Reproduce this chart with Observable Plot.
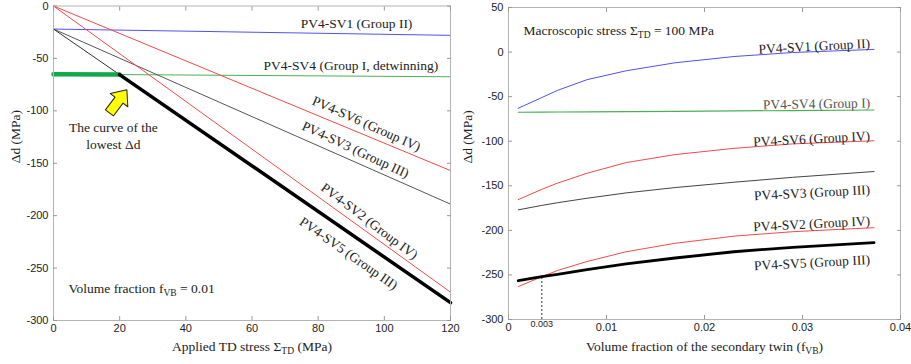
<!DOCTYPE html>
<html><head><meta charset="utf-8">
<script src="https://cdn.jsdelivr.net/npm/d3@7"></script>
<script src="https://cdn.jsdelivr.net/npm/@observablehq/plot@0.6"></script>
<style>
body{margin:0;background:#fff;}
#wrap{display:flex;width:911px;height:364px;overflow:hidden;}
</style></head><body><div id="wrap"></div>
<script>
// ---------- Left panel: Δd vs applied TD stress (f_VB = 0.01) ----------
const stress = [0, 120];
const leftSV1 = [-22, -28];
const leftSV4 = [-65, -67.5];
const leftSV6 = [0, -157];
const leftSV3 = [-22, -189];
const leftSV2 = [0, -273];
const leftSV5 = [-22, -283];
const leftXTicks = [0, 20, 40, 60, 80, 100, 120];
const leftYTicks = [-300, -250, -200, -150, -100, -50, 0];

// ---------- Right panel: Δd vs volume fraction of secondary twin (Σ_TD = 100 MPa) ----------
const fvb = [0.001, 0.0034, 0.005, 0.008, 0.012, 0.017, 0.023, 0.029, 0.0373];
const rightSV1 = [-63, -51, -43, -31, -21, -12, -5, -0.5, 3];
const rightSV4 = [-67.5, -67.3, -67.2, -67, -66.8, -66.5, -66, -65.6, -65];
const rightSV6 = [-165.5, -154, -147, -136, -124, -115, -108, -103, -99.5];
const rightSV3 = [-177, -172, -169, -164, -158, -152, -146, -140.5, -134];
const rightSV2 = [-263, -252, -245, -235, -224, -214.5, -206.5, -201.5, -197];
const rightSV5 = [-256.5, -252, -249.5, -244, -237.5, -231, -224, -219, -213.7];
const rightXTicks = [0, 0.01, 0.02, 0.03, 0.04];
const rightYTicks = [-300, -250, -200, -150, -100, -50, 0, 50];
const crossIndex = 1; // where SV2 and SV5 meet (f ≈ 0.003)
const crossLabel = "0.003";

const labelsLeft = ["PV4-SV1 (Group II)", "PV4-SV4 (Group I, detwinning)", "PV4-SV6 (Group IV)", "PV4-SV3 (Group III)", "PV4-SV2 (Group IV)", "PV4-SV5 (Group III)"];
const labelsRight = ["PV4-SV1 (Group II)", "PV4-SV4 (Group I)", "PV4-SV6 (Group IV)", "PV4-SV3 (Group III)", "PV4-SV2 (Group IV)", "PV4-SV5 (Group III)"];

const BLUE = "#5050f5", RED = "#f24a4a", GREEN = "#4caf58", GREENTHICK = "#10a848", GREY = "#555", BLACK = "#000";
const serif = "'Liberation Serif', 'Times New Roman', serif";
const baseStyle = {fontFamily: "'Liberation Sans', Arial, sans-serif", fontSize: "11px", color: "#222", background: "white", overflow: "visible"};
const fmt = d => String(d);

const toRows = (xs, ys) => xs.map((x, i) => ({x, y: ys[i]}));
const interp = (xs, ys, x) => {
  for (let i = 0; i < xs.length - 1; i++) if (x >= xs[i] && x <= xs[i + 1]) return ys[i] + (ys[i + 1] - ys[i]) * (x - xs[i]) / (xs[i + 1] - xs[i]);
  return ys[ys.length - 1];
};

function frameMarks(xTicks, yTicks, yFmt, xFmt) {
  return [
    Plot.frame({stroke: "#b4b4b4"}),
    Plot.axisX(xTicks, {anchor: "bottom", tickSize: 4, insetBottom: 4, fill: "none", stroke: "#999", label: null}),
    Plot.axisX(xTicks, {anchor: "top", tickSize: 4, insetTop: 4, fill: "none", stroke: "#999", label: null}),
    Plot.axisY(yTicks, {anchor: "left", tickSize: 4, insetLeft: 4, fill: "none", stroke: "#999", label: null}),
    Plot.axisY(yTicks, {anchor: "right", tickSize: 4, insetRight: 4, fill: "none", stroke: "#999", label: null}),
    Plot.axisX(xTicks, {anchor: "bottom", tickSize: 0, tickPadding: 4, tickFormat: xFmt, label: null, fill: "#222"}),
    Plot.axisY(yTicks, {anchor: "left", tickSize: 0, tickPadding: 5, tickFormat: yFmt, label: null, fill: "#222"})
  ];
}

const blockArrow = {
  draw(ctx, l) {
    const sw = 5, hw = 11, hl = 13;
    ctx.moveTo(-sw, 0);
    ctx.lineTo(-sw, -(l - hl));
    ctx.lineTo(-hw, -(l - hl));
    ctx.lineTo(0, -l);
    ctx.lineTo(hw, -(l - hl));
    ctx.lineTo(sw, -(l - hl));
    ctx.lineTo(sw, 0);
    ctx.closePath();
  }
};

// ---------- Left chart ----------
const leftSeries = [
  {v: leftSV1, c: BLUE}, {v: leftSV4, c: GREEN}, {v: leftSV6, c: RED},
  {v: leftSV3, c: GREY}, {v: leftSV2, c: RED}, {v: leftSV5, c: "#333"}
];
// crossing of SV4 and SV5 (start of the lowest-Δd black segment)
const b4 = (leftSV4[1] - leftSV4[0]) / (stress[1] - stress[0]);
const b5 = (leftSV5[1] - leftSV5[0]) / (stress[1] - stress[0]);
const xCross = (leftSV5[0] - leftSV4[0]) / (b4 - b5);
const yCross = leftSV4[0] + b4 * xCross;

const leftLabelPos = [
  {i: 0, x: 74.7, dy: -9, rot: 0, anchor: "start"},
  {i: 1, x: 63.5, dy: -9.5, rot: 0, anchor: "start"},
  {i: 2, x: 94.6, dy: -12, rot: 24, anchor: "middle"},
  {i: 3, x: 91.3, dy: -12.5, rot: 25, anchor: "middle"},
  {i: 4, x: 95.5, dy: -12.5, rot: 37, anchor: "middle"},
  {i: 5, x: 89.2, dy: 21, rot: 35, anchor: "middle"}
];

const leftPlot = Plot.plot({
  width: 460, height: 364,
  marginLeft: 53, marginRight: 10, marginTop: 5.5, marginBottom: 44,
  x: {domain: [0, 120]},
  y: {domain: [-300, 0]},
  style: baseStyle,
  marks: [
    ...leftSeries.map(s => Plot.line(toRows(stress, s.v), {x: "x", y: "y", stroke: s.c, strokeWidth: 1})),
    Plot.line([{x: stress[0], y: leftSV4[0]}, {x: xCross, y: yCross}], {x: "x", y: "y", stroke: GREENTHICK, strokeWidth: 4.5}),
    Plot.line([{x: xCross, y: yCross}, {x: stress[1], y: leftSV5[1]}], {x: "x", y: "y", stroke: BLACK, strokeWidth: 3.5}),
    ...frameMarks(leftXTicks, leftYTicks, fmt, fmt),
    ...leftLabelPos.map(p => Plot.text([p], {
      x: d => d.x, y: d => interp(stress, leftSeries[d.i].v, d.x), text: d => labelsLeft[d.i],
      dy: p.dy, rotate: p.rot, textAnchor: p.anchor, fontFamily: serif, fontSize: 13.5, fill: "#222"
    })),
    Plot.vector([{x: 16.9, y: -102}], {x: "x", y: "y", rotate: 37, length: 29, anchor: "start", shape: blockArrow, fill: "#ffff00", stroke: "#222", strokeWidth: 1}),
    Plot.text(["The curve of the\nlowest Δd"], {x: () => 18.1, y: () => -123.5, text: d => d, fontFamily: serif, fontSize: 13.5, lineHeight: 1.25, fill: "#222"}),
    Plot.text(["Volume fraction f_{VB} = 0.01"], {frameAnchor: "bottom-left", dx: 15, dy: -28, textAnchor: "start", text: d => d, fontFamily: serif, fontSize: 13.5, fill: "#222"}),
    Plot.text(["Applied TD stress Σ_{TD} (MPa)"], {frameAnchor: "bottom", dy: 30, text: d => d, fontFamily: serif, fontSize: 13.5, fill: "#222"}),
    Plot.text(["Δd (MPa)"], {frameAnchor: "left", dx: -38, rotate: -90, text: d => d, fontFamily: serif, fontSize: 13.5, fill: "#222"})
  ]
});

// ---------- Right chart ----------
const rightSeries = [
  {v: rightSV1, c: BLUE, w: 1}, {v: rightSV4, c: GREEN, w: 1.2}, {v: rightSV6, c: RED, w: 1},
  {v: rightSV3, c: "#444", w: 1}, {v: rightSV2, c: RED, w: 1}, {v: rightSV5, c: BLACK, w: 2.8}
];
const rightLabelPos = [
  {i: 0, dy: -6, rot: -3, fill: "#222"},
  {i: 1, dy: -7, rot: -1, fill: "#555"},
  {i: 2, dy: -5, rot: -3, fill: "#222"},
  {i: 3, dy: 18, rot: -3, fill: "#222"},
  {i: 4, dy: -7, rot: -3, fill: "#222"},
  {i: 5, dy: 17, rot: -3, fill: "#222"}
];
const xLabelEnd = 0.0369;

const rightPlot = Plot.plot({
  width: 451, height: 364,
  marginLeft: 48, marginRight: 11, marginTop: 7, marginBottom: 45,
  x: {domain: [0, 0.04]},
  y: {domain: [-300, 50]},
  style: baseStyle,
  marks: [
    Plot.ruleX([fvb[crossIndex]], {x: d => d, y1: -300, y2: rightSV5[crossIndex], stroke: "#333", strokeDasharray: "2,2", strokeWidth: 1}),
    ...rightSeries.map(s => Plot.line(toRows(fvb, s.v), {x: "x", y: "y", stroke: s.c, strokeWidth: s.w})),
    ...frameMarks(rightXTicks, rightYTicks, fmt, fmt),
    Plot.text([crossLabel], {x: () => fvb[crossIndex], frameAnchor: "bottom", dy: 7, text: d => d, fontSize: 9, fill: "#222"}),
    ...rightLabelPos.map(p => Plot.text([p], {
      x: () => xLabelEnd, y: d => interp(fvb, rightSeries[d.i].v, xLabelEnd), text: d => labelsRight[d.i],
      dy: p.dy, rotate: p.rot, textAnchor: "end", fontFamily: serif, fontSize: 13.5, fill: p.fill
    })),
    Plot.text(["Macroscopic stress Σ_{TD} = 100 MPa"], {frameAnchor: "top-left", dx: 15, dy: 18, textAnchor: "start", text: d => d, fontFamily: serif, fontSize: 13.5, fill: "#222"}),
    Plot.text(["Volume fraction of the secondary twin (f_{VB})"], {frameAnchor: "bottom", dy: 31, text: d => d, fontFamily: serif, fontSize: 13.5, fill: "#222"}),
    Plot.text(["Δd (MPa)"], {frameAnchor: "left", dx: -41, rotate: -90, text: d => d, fontFamily: serif, fontSize: 13.5, fill: "#222"})
  ]
});

// Convert "_{...}" markers into real subscript tspans
function subify(root) {
  const NS = "http://www.w3.org/2000/svg";
  root.querySelectorAll("text, tspan").forEach(el => {
    if (el.children.length) return;
    const s = el.textContent;
    if (!s.includes("_{")) return;
    el.textContent = "";
    const re = /_\{([^}]*)\}/g;
    let last = 0, m, shifted = false;
    const add = (txt, attrs) => {
      const t = document.createElementNS(NS, "tspan");
      for (const k in attrs) t.setAttribute(k, attrs[k]);
      t.textContent = txt;
      el.appendChild(t);
    };
    while ((m = re.exec(s))) {
      if (m.index > last) add(s.slice(last, m.index), shifted ? {dy: -3} : {});
      add(m[1], {dy: 3, "font-size": "9.5"});
      shifted = true;
      last = re.lastIndex;
    }
    if (last < s.length) add(s.slice(last), shifted ? {dy: -3} : {});
  });
}
subify(leftPlot);
subify(rightPlot);

const wrap = document.getElementById("wrap");
wrap.appendChild(leftPlot);
wrap.appendChild(rightPlot);
</script>
</body></html>
